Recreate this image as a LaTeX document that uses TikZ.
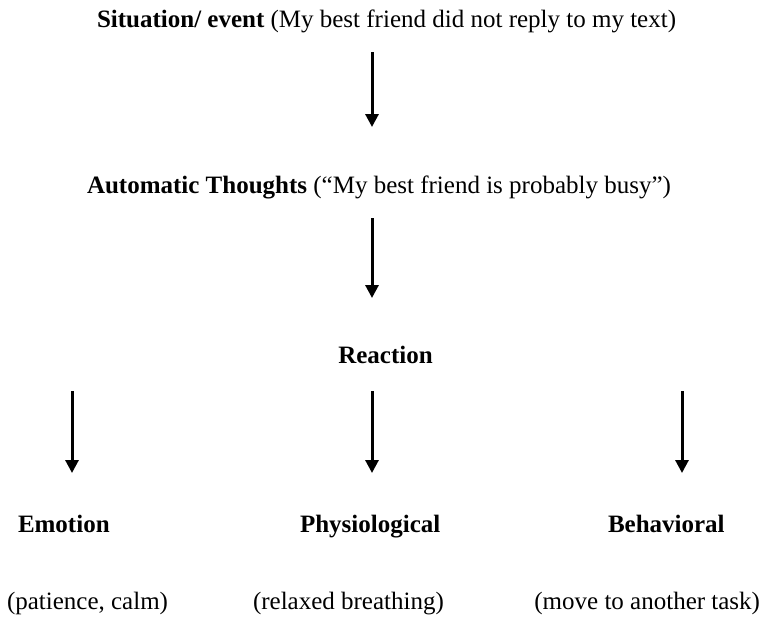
\documentclass[tikz,border=0pt]{standalone}
\usepackage{fontspec}
\setmainfont{Liberation Serif}
\usetikzlibrary{arrows.meta}
\begin{document}
\begin{tikzpicture}[x=1pt,y=-1pt,
  every node/.style={inner sep=0pt,outer sep=0pt,font=\fontsize{25}{30}\selectfont},
  flow/.style={line width=3pt,-{Triangle[width=13pt,length=13pt]}}]
\useasboundingbox (0,0) rectangle (764,622);
% statements of the chain
\node[anchor=base west] (sit) at (97,27) {\textbf{Situation/ event} (My best friend did not reply to my text)};
\node[anchor=base west] (auto) at (87,193) {\textbf{Automatic Thoughts} (“My best friend is probably busy”)};
\node[anchor=base] (react) at (385.5,363) {\textbf{Reaction}};
% kinds of reaction
\node[anchor=base west] (emo) at (18,532) {\textbf{Emotion}};
\node[anchor=base west] (phys) at (300,532) {\textbf{Physiological}};
\node[anchor=base west] (beh) at (608,532) {\textbf{Behavioral}};
\node[anchor=base west] (emoex) at (7,609) {(patience, calm)};
\node[anchor=base west] (physex) at (253,609) {(relaxed breathing)};
\node[anchor=base east] (behex) at (760,609) {(move to another task)};
% arrow end points
\coordinate (a1s) at (372,52);  \coordinate (a1e) at (372,127);
\coordinate (a2s) at (372,218); \coordinate (a2e) at (372,298);
\coordinate (a3s) at (72,391);  \coordinate (a3e) at (72,473);
\coordinate (a4s) at (372,391); \coordinate (a4e) at (372,473);
\coordinate (a5s) at (682,391); \coordinate (a5e) at (682,473);
\draw[flow] (a1s) -- (a1e);
\draw[flow] (a2s) -- (a2e);
\draw[flow] (a3s) -- (a3e);
\draw[flow] (a4s) -- (a4e);
\draw[flow] (a5s) -- (a5e);
\end{tikzpicture}
\end{document}
